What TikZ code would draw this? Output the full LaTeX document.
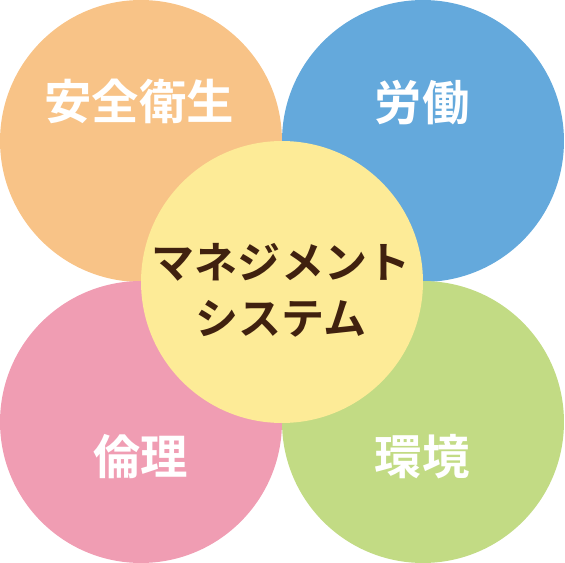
\documentclass[tikz,border=0pt]{standalone}
\usepackage{fontspec}
\newfontfamily\jpfont{Noto Sans CJK JP}[BoldFont={* Bold}]
\usetikzlibrary{calc}
\definecolor{SafeClr}{RGB}{248,195,135}
\definecolor{WorkClr}{RGB}{100,169,220}
\definecolor{EthicClr}{RGB}{240,157,179}
\definecolor{EnvClr}{RGB}{194,219,132}
\definecolor{CoreClr}{RGB}{253,235,151}
\definecolor{TxtClr}{RGB}{64,33,15}

\begin{document}
\begin{tikzpicture}[x=0.02cm,y=-0.02cm,
  blob/.style={circle,minimum size=5.64cm,inner sep=0pt},
  lbl/.style={font=\jpfont\bfseries\fontsize{27}{32}\selectfont,text=white},
  corelbl/.style={font=\jpfont\bfseries\fontsize{24.5}{32}\selectfont,text=TxtClr,align=center}]
\useasboundingbox (0,0) rectangle (565,563);

% four corner circles
\node[blob,fill=SafeClr] (safe) at (141,141) {};
\node[blob,fill=WorkClr] (work) at (423,141) {};
\node[blob,fill=EthicClr] (ethic) at (141,422) {};
\node[blob,fill=EnvClr] (env) at (423,422) {};

% centre circle
\node[blob,fill=CoreClr] (core) at (282,282) {};

\node[lbl] (safeT) at (139,101) {安全衛生};
\node[lbl] (workT) at (422,103) {労働};
\node[lbl] (ethicT) at (141,457) {倫理};
\node[lbl] (envT) at (422,457) {環境};

\node[corelbl] (coreT) at (281,290) {マネジメント\\システム};

\end{tikzpicture}
\end{document}
